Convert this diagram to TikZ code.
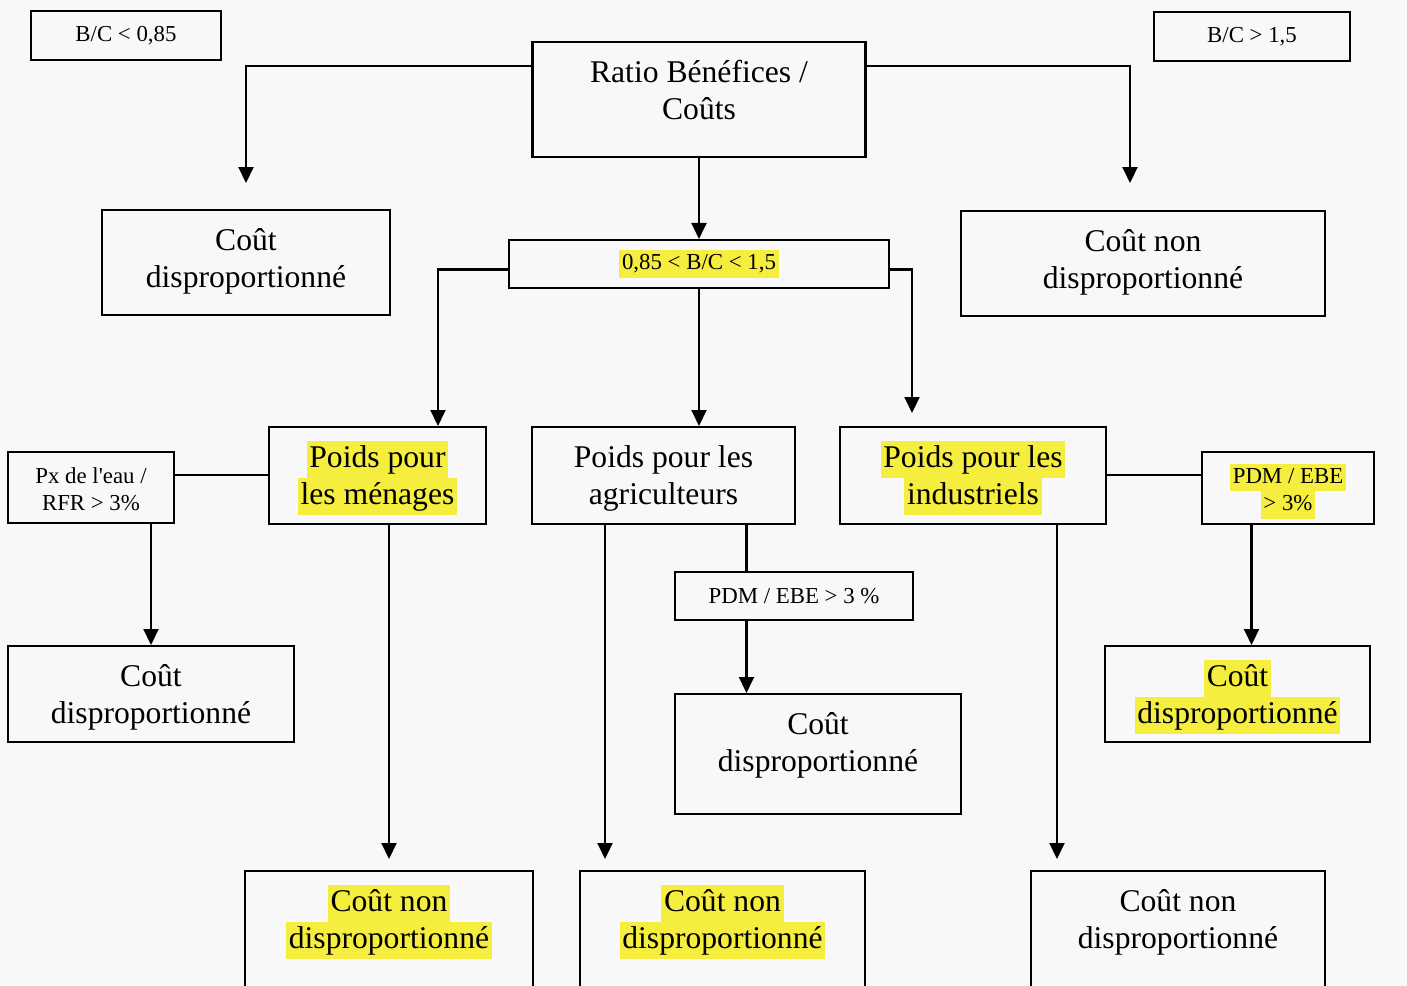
\documentclass[tikz,border=0pt]{standalone}
\usepackage{fontspec}
\setmainfont{Liberation Serif}
\usetikzlibrary{arrows.meta}
\definecolor{jaune}{RGB}{246,238,62}
\definecolor{fond}{RGB}{248,248,251}
\newcommand{\surl}[1]{{\setlength{\fboxsep}{0pt}\colorbox{jaune}{\strut\kern1.5pt#1\kern1.5pt}}}

\begin{document}
\begin{tikzpicture}[x=0.02cm, y=-0.02cm,
  boite/.style={draw, line width=1.2pt, align=center, inner sep=0pt},
  grand/.style={font=\fontsize{18}{21}\selectfont, anchor=north, text height=1.54cm},
  petit/.style={font=\fontsize{13}{15.5}\selectfont},
  fleche/.style={line width=1.2pt, -{Triangle[length=0.32cm, width=0.3cm]}},
  trait/.style={line width=1.2pt}]
 \useasboundingbox[fill=fond] (0,0) rectangle (1407,986);
 \clip (0,0) rectangle (1407,986);

 \node[boite, petit, minimum width=3.8cm, minimum height=0.98cm] (bc1) at (126,35.5) {B/C < 0,85};
 \node[boite, petit, minimum width=3.92cm, minimum height=0.98cm] (bc2) at (1252,36.5) {B/C > 1,5};
 \node[boite, grand, minimum width=6.66cm, text depth=0.76cm] (ratio) at (699,41) {Ratio Bénéfices /\\Coûts};

 \node[boite, grand, minimum width=5.76cm, text depth=0.56cm] (cd1) at (246,209) {Coût\\disproportionné};
 \node[boite, grand, minimum width=7.28cm, text depth=0.56cm] (cnd1) at (1143,210) {Coût non\\disproportionné};
 \node[boite, petit, minimum width=7.6cm, minimum height=0.96cm] (mid) at (699,264) {\surl{0,85 < B/C < 1,5}};

 \node[boite, grand, minimum width=4.34cm, text depth=0.4cm] (men) at (377.5,426) {\surl{Poids pour}\\\surl{les ménages}};
 \node[boite, grand, minimum width=5.26cm, text depth=0.4cm] (agr) at (663.5,426) {Poids pour les\\agriculteurs};
 \node[boite, grand, minimum width=5.32cm, text depth=0.4cm] (ind) at (973,426) {\surl{Poids pour les}\\\surl{industriels}};
 \node[boite, petit, anchor=north, minimum width=3.32cm, text height=1.17cm, text depth=0.25cm] (px) at (91,451) {Px de l\textquotesingle eau /\\RFR > 3\%};
 \node[boite, petit, anchor=north, minimum width=3.44cm, text height=1.17cm, text depth=0.27cm] (pdmi) at (1288,451) {\surl{PDM / EBE}\\\surl{> 3\%}};
 \node[boite, petit, minimum width=4.76cm, minimum height=0.96cm] (pdma) at (794,596) {PDM / EBE > 3 \%};

 \node[boite, grand, minimum width=5.72cm, text depth=0.38cm] (cd2) at (151,645) {Coût\\disproportionné};
 \node[boite, grand, minimum width=5.72cm, text depth=0.86cm] (cd3) at (818,693) {Coût\\disproportionné};
 \node[boite, grand, minimum width=5.3cm, text depth=0.38cm] (cd4) at (1237.5,645) {\surl{Coût}\\\surl{disproportionné}};

 \node[boite, grand, minimum width=5.76cm, text depth=3cm] (cnd2) at (389,870) {\surl{Coût non}\\\surl{disproportionné}};
 \node[boite, grand, minimum width=5.7cm, text depth=3cm] (cnd3) at (722.5,870) {\surl{Coût non}\\\surl{disproportionné}};
 \node[boite, grand, minimum width=5.88cm, text depth=3cm] (cnd4) at (1178,870) {Coût non\\disproportionné};

 \draw[fleche] ([yshift=-0.5cm]ratio.north west) -| ([yshift=0.52cm]cd1.north);
 \draw[fleche] ([yshift=-0.5cm]ratio.north east) -| ([xshift=-0.26cm, yshift=0.54cm]cnd1.north);
 \draw[fleche] (ratio.south) -- (ratio.south |- mid.north);
 \draw[fleche] ([yshift=-0.11cm]mid.west) -| ([xshift=1.21cm]men.north);
 \draw[fleche] ([yshift=-0.11cm]mid.east) -| ([xshift=-1.22cm, yshift=0.26cm]ind.north);
 \draw[fleche] (mid.south) -- (mid.south |- agr.north);

 \draw[trait] ([yshift=-0.98cm]men.north west) -- ([yshift=-0.98cm]men.north west -| px.east);
 \draw[fleche] (px.south -| cd2.north) -- (cd2.north);
 \draw[fleche] (men.south -| cnd2.north) -- ([yshift=0.22cm]cnd2.north);

 \coordinate (a1) at ([xshift=-1.17cm]agr.south);
 \coordinate (a2) at (cnd3.north -| a1);
 \draw[fleche] (a1) -- ([yshift=0.22cm]a2);
 \coordinate (a3) at ([xshift=1.66cm]agr.south);
 \draw[trait] (a3) -- (a3 |- pdma.north);
 \draw[fleche] (a3 |- pdma.south) -- (a3 |- cd3.north);

 \draw[trait] ([yshift=-0.98cm]ind.north east) -- ([yshift=-0.98cm]ind.north east -| pdmi.west);
 \coordinate (i1) at ([xshift=1.68cm]ind.south);
 \coordinate (i2) at (cnd4.north -| i1);
 \draw[fleche] (i1) -- ([yshift=0.22cm]i2);
 \coordinate (i3) at ([xshift=-0.73cm]pdmi.south);
 \draw[fleche] (i3) -- (i3 |- cd4.north);
\end{tikzpicture}
\end{document}
